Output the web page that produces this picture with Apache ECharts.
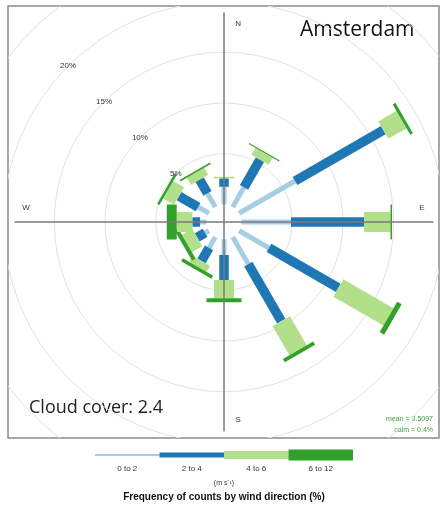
<!DOCTYPE html>
<html>
<head>
<meta charset="utf-8">
<script src="https://cdn.jsdelivr.net/npm/echarts@6/dist/echarts.min.js"></script>
<style>
  html, body { margin: 0; padding: 0; background: #ffffff; }
  #chart { width: 444px; height: 505px; }
</style>
</head>
<body>
<div id="chart"></div>
<script>
// Wind rose: frequency (%) of counts per 30-degree sector, split by wind speed bin.
const directions = [0, 30, 60, 90, 120, 150, 180, 210, 240, 270, 300, 330];
const speedBins  = ['0 to 2', '2 to 4', '4 to 6', '6 to 12'];
const freq0to2   = [1.75, 2.22, 6.36, 4.88, 3.40, 3.06, 1.53, 1.23, 0.44, 0.64, 1.23, 1.53];
const freq2to4   = [0.83, 3.15, 10.04, 7.19, 7.88, 6.50, 2.47, 1.48, 0.89, 0.76, 2.17, 1.57];
const freq4to6   = [0.16, 0.79, 2.07, 2.61, 5.71, 3.30, 1.79, 0.69, 1.18, 1.54, 1.23, 0.79];
const freq6to12  = [0.00, 0.10, 0.30, 0.15, 0.50, 0.39, 0.40, 0.34, 0.40, 0.98, 0.25, 0.15];
const ringTicks  = [5, 10, 15, 20, 25];
const ringLabels = ['5%', '10%', '15%', '20%'];
const compassLabels = ['N', 'E', 'S', 'W'];
const compassDirs   = [0, 90, 180, 270];
const meanSpeed = 3.5097;
const calmPct   = 0.4;
const stationName = 'Amsterdam';
const cloudCover  = 2.4;

// Radius of the calm circle, in % units; every bar starts from it.
const OFFSET = 1.72;
const AXIS_EXTENT = 20.65;
const LABEL_R = 19.5, LABEL_SHIFT = 1.4;

const bandColors = ['#a6cee3', '#1f78b4', '#b2df8a', '#33a02c'];
const bandWidths = [5, 9.5, 20, 35];     // paddle width per speed bin (px)
const keyThickness = [2, 5, 8, 11];     // colour-key thickness per speed bin (px)

const bands = [freq0to2, freq2to4, freq4to6, freq6to12];

// Paddle segments, drawn sector by sector (30 ... 330, then north), inner bin first.
const drawOrder = directions.map((d, i) => i).slice(1).concat([0]);
const paddleData = [];
drawOrder.forEach(i => {
  let cum = 0;
  bands.forEach((arr, j) => {
    const v = arr[i];
    if (v > 0) paddleData.push([directions[i], j, OFFSET + cum, OFFSET + cum + v]);
    cum += v;
  });
});

function polar(r, deg) {
  const t = deg * Math.PI / 180;
  return [r * Math.sin(t), r * Math.cos(t)];
}

const chart = echarts.init(document.getElementById('chart'), null, { renderer: 'canvas' });

const smallFont = 'Liberation Sans, Arial, sans-serif';

chart.setOption({
  animation: false,
  backgroundColor: '#ffffff',
  grid: [
    { left: 8, top: 6, width: 431, height: 432, show: true, borderColor: '#8c8c8c', borderWidth: 1.5, backgroundColor: 'transparent' },
    { left: 95, top: 451, width: 258, height: 8, show: false }
  ],
  xAxis: [
    { gridIndex: 0, type: 'value', min: -21.28, max: 21.18, show: false },
    { gridIndex: 1, type: 'category', data: speedBins, boundaryGap: true,
      axisLine: { show: false }, axisTick: { show: false }, splitLine: { show: false },
      axisLabel: { show: true, margin: 6, color: '#333', fontSize: 8, fontFamily: smallFont } }
  ],
  yAxis: [
    { gridIndex: 0, type: 'value', min: -21.28, max: 21.28, show: false },
    { gridIndex: 1, type: 'value', min: 0, max: 1, show: false }
  ],
  series: [
    {
      // percentage rings
      type: 'custom', xAxisIndex: 0, yAxisIndex: 0, clip: true, z: 1,
      data: ringTicks.map(p => [p]),
      renderItem: function (params, api) {
        const pct = api.value(0);
        const R = OFFSET + pct;
        const c = api.coord([0, 0]);
        const rpx = api.size([R, 0])[0];
        const children = [{
          type: 'circle', shape: { cx: c[0], cy: c[1], r: rpx },
          style: { fill: 'none', stroke: '#e2e2e2', lineWidth: 1 }
        }];
        const lbl = ringLabels[params.dataIndex];
        if (lbl) {
          const p = api.coord(polar(R, 315));
          children.push({
            type: 'text', x: p[0], y: p[1],
            style: { text: lbl, fill: '#333', font: '8px ' + smallFont, align: 'center', verticalAlign: 'middle' }
          });
        }
        return { type: 'group', children: children };
      }
    },
    {
      // wind paddles
      type: 'custom', xAxisIndex: 0, yAxisIndex: 0, z: 2,
      data: paddleData,
      renderItem: function (params, api) {
        const dir = api.value(0), band = api.value(1), r0 = api.value(2), r1 = api.value(3);
        const t = dir * Math.PI / 180;
        const a = api.coord(polar(r0, dir));
        const b = api.coord(polar(r1, dir));
        const hw = bandWidths[band] / 2;
        const nx = Math.cos(t) * hw, ny = Math.sin(t) * hw;
        return {
          type: 'polygon',
          shape: { points: [[a[0] + nx, a[1] + ny], [b[0] + nx, b[1] + ny], [b[0] - nx, b[1] - ny], [a[0] - nx, a[1] - ny]] },
          style: { fill: bandColors[band] }
        };
      }
    },
    {
      // N-S and E-W axes
      type: 'custom', xAxisIndex: 0, yAxisIndex: 0, z: 3,
      data: [[0], [90]],
      renderItem: function (params, api) {
        const d = api.value(0);
        const p1 = api.coord(polar(AXIS_EXTENT, d));
        const p2 = api.coord(polar(-AXIS_EXTENT, d));
        return {
          type: 'line', shape: { x1: p1[0], y1: p1[1], x2: p2[0], y2: p2[1] },
          style: { stroke: '#7a7a7a', lineWidth: 1.5 }
        };
      }
    },
    {
      // compass letters
      type: 'custom', xAxisIndex: 0, yAxisIndex: 0, z: 4,
      data: compassDirs.map(d => [d]),
      renderItem: function (params, api) {
        const d = api.value(0);
        const base = polar(LABEL_R, d);
        const pos = (d === 0 || d === 180) ? [base[0] + LABEL_SHIFT, base[1]] : [base[0], base[1] + LABEL_SHIFT];
        const p = api.coord(pos);
        return {
          type: 'text', x: p[0], y: p[1],
          style: { text: compassLabels[params.dataIndex], fill: '#333', font: '8px ' + smallFont, align: 'center', verticalAlign: 'middle' }
        };
      }
    },
    {
      // colour key for speed bins
      type: 'custom', xAxisIndex: 1, yAxisIndex: 1, z: 2,
      data: speedBins.map((s, i) => [i]),
      renderItem: function (params, api) {
        const i = api.value(0);
        const c = api.coord([i, 0.5]);
        const w = api.size([1, 0])[0];
        const h = keyThickness[i];
        return {
          type: 'rect', shape: { x: c[0] - w / 2, y: c[1] - h / 2, width: w, height: h },
          style: { fill: bandColors[i] }
        };
      }
    }
  ],
  graphic: [
    { type: 'text', left: 300, top: 20, style: { text: stationName, font: '21px "Open Sans", sans-serif', fill: '#111' } },
    { type: 'text', left: 29, top: 399, style: { text: 'Cloud cover: ' + cloudCover, font: '18px "Open Sans", sans-serif', fill: '#222' } },
    { type: 'text', x: 433, y: 419, style: { text: 'mean = ' + meanSpeed, font: '7px ' + smallFont, fill: '#3aa13a', align: 'right', verticalAlign: 'middle' } },
    { type: 'text', x: 433, y: 430, style: { text: 'calm = ' + calmPct + '%', font: '7px ' + smallFont, fill: '#3aa13a', align: 'right', verticalAlign: 'middle' } },
    { type: 'text', x: 224, y: 483, style: { text: '(m s\u207B\u00B9)', font: '7px ' + smallFont, fill: '#333', align: 'center', verticalAlign: 'middle' } },
    { type: 'text', x: 224, y: 497, style: { text: 'Frequency of counts by wind direction (%)', font: 'bold 10px ' + smallFont, fill: '#111', align: 'center', verticalAlign: 'middle' } }
  ]
});
</script>
</body>
</html>
